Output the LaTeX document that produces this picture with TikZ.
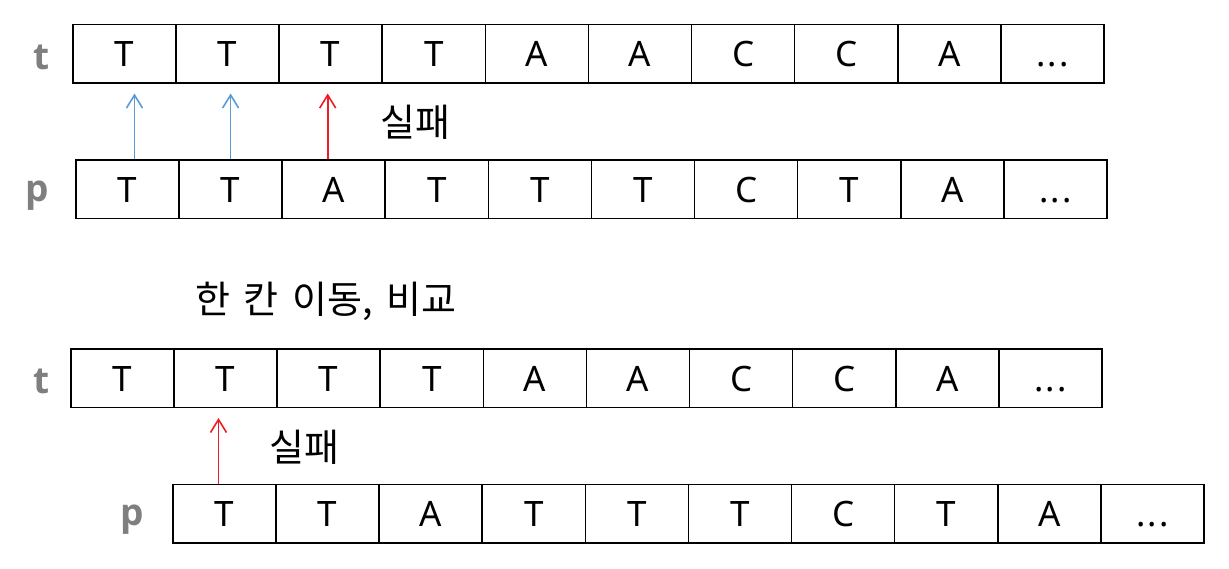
\documentclass[tikz,border=0pt]{standalone}
\usepackage{fontspec}
\setmainfont{Noto Sans}
\newfontfamily\kofont[WordSpace=1.6]{Noto Sans CJK KR}
\newfontfamily\lblfont{Open Sans}
\usetikzlibrary{positioning,arrows.meta}
\definecolor{cmpblue}{HTML}{5B9BD5}
\definecolor{failred}{HTML}{EE1C25}
\definecolor{lblgray}{HTML}{7F7F7F}
\newcommand{\more}{.\kern2pt.\kern2pt.}

\begin{document}
\begin{tikzpicture}[x=1pt, y=-1pt,
        cell/.style={draw, line width=1.5pt, minimum width=103pt, minimum height=58.5pt, inner sep=0pt,
          text height=26pt, text depth=0pt, font=\fontsize{35}{38}\selectfont},
        lbl/.style={font=\lblfont\fontsize{37}{40}\selectfont\bfseries, text=lblgray},
        msg/.style={font=\kofont\fontsize{38}{42}\selectfont},
        arr/.style={-{Straight Barb[length=13pt, width=16pt, line width=1.6pt]}, line width=1.6pt}]
      \useasboundingbox (0,0) rectangle (1229,568);
      % first try
      \node[lbl] (tlab1) at (42,57) {t};
      \foreach \ch [count=\i] in {T,T,T,T,A,A,C,C,A,\more}
        \node[cell] (ta\i) at ({124.5+103.1*(\i-1)},53.5) {\ch};
      \node[lbl] (plab1) at (37,196) {p};
      \foreach \ch [count=\i] in {T,T,A,T,T,T,C,T,A,\more}
        \node[cell] (pa\i) at ({127.5+103.1*(\i-1)},189) {\ch};
      \draw[arr, cmpblue] ([xshift=7pt]pa1.north) -- ([xshift=7pt, yshift=-10pt]pa1.north |- ta1.south);
      \draw[arr, cmpblue] (pa2.north) -- ([yshift=-10pt]pa2.north |- ta2.south);
      \draw[arr, failred] ([xshift=-6pt]pa3.north) -- ([xshift=-6pt, yshift=-10pt]pa3.north |- ta3.south);
      \node[msg] (fail1) at (415,122) {실패};
      % shift by one
      \node[msg] (shift) at (326,301) {한 칸 이동, 비교};
      \node[lbl] (tlab2) at (42,381) {t};
      \foreach \ch [count=\i] in {T,T,T,T,A,A,C,C,A,\more}
        \node[cell] (tb\i) at ({122.5+103.1*(\i-1)},378) {\ch};
      \node[lbl] (plab2) at (132,520) {p};
      \foreach \ch [count=\i] in {T,T,A,T,T,T,C,T,A,\more}
        \node[cell] (pb\i) at ({224.5+103.1*(\i-1)},513.5) {\ch};
      \draw[arr, failred] ([xshift=-6pt]pb1.north) -- ([xshift=-6pt, yshift=-10pt]pb1.north |- tb2.south);
      \node[msg] (fail2) at (304,447) {실패};
\end{tikzpicture}
\end{document}
